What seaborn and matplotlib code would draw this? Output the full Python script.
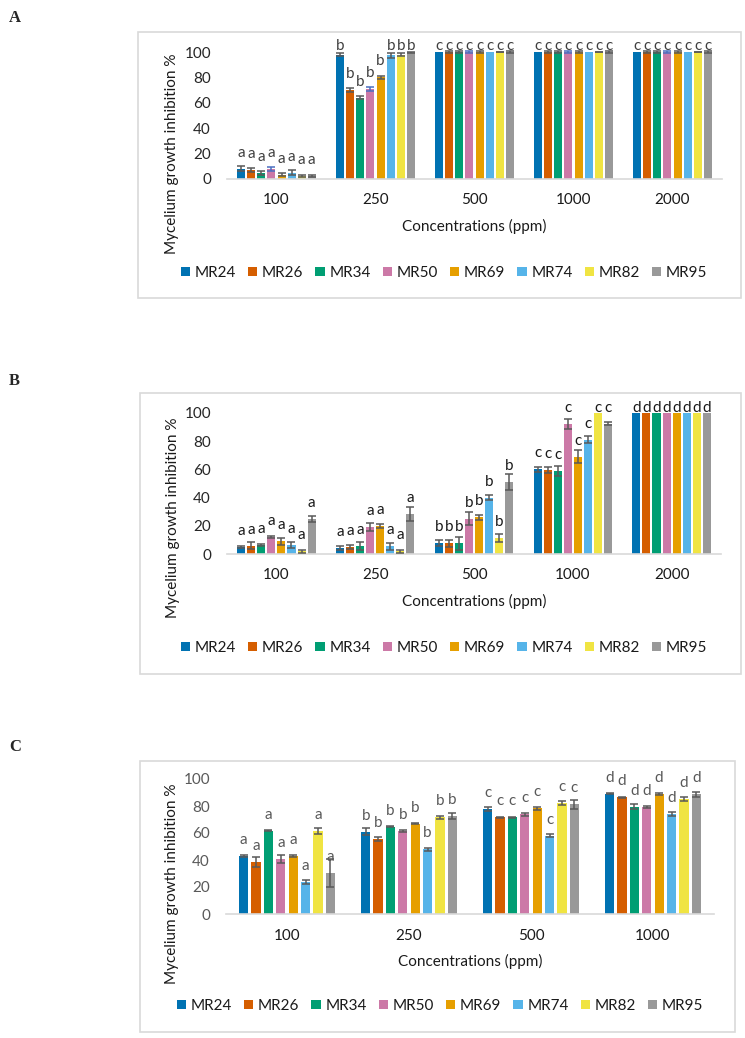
import matplotlib
matplotlib.use('Agg')
import matplotlib.pyplot as plt
import seaborn as sns
import pandas as pd
import numpy as np
from matplotlib.patches import Rectangle, Patch

sns.set_theme(style='white')
plt.rcParams['font.family'] = ['Lato', 'DejaVu Sans']

# ---------------- data ----------------
isolates = ['MR24', 'MR26', 'MR34', 'MR50', 'MR69', 'MR74', 'MR82', 'MR95']
colors = ['#0072B2', '#D55E00', '#009E73', '#CC79A7', '#E69F00', '#56B4E9', '#F0E442', '#999999']

a_concs = ['100', '250', '500', '1000', '2000']
a_mean = [
    [8.0, 98.0, 100, 100, 100],
    [7.0, 70.0, 100, 100, 100],
    [4.5, 64.0, 100, 100, 100],
    [8.0, 71.0, 100, 100, 100],
    [3.5, 80.0, 100, 100, 100],
    [5.0, 97.5, 100, 100, 100],
    [2.5, 98.0, 100, 100, 100],
    [2.2, 99.6, 100, 100, 100],
]
a_err = [
    [2.0, 1.5, 0.0, 0.0, 0.0],
    [1.5, 1.5, 0.8, 0.8, 0.8],
    [1.5, 1.0, 0.8, 0.8, 0.8],
    [1.5, 1.5, 0.5, 0.5, 0.5],
    [1.5, 1.0, 0.8, 0.8, 0.8],
    [2.0, 2.0, 0.0, 0.0, 0.0],
    [1.0, 1.5, 0.3, 0.3, 0.3],
    [1.0, 0.5, 0.8, 0.8, 0.8],
]
a_letters = ['a', 'b', 'c', 'c', 'c']

b_concs = ['100', '250', '500', '1000', '2000']
b_mean = [
    [5.0, 4.0, 8.0, 60.0, 100],
    [6.0, 5.0, 7.5, 59.5, 100],
    [6.5, 5.5, 7.5, 59.0, 100],
    [12.0, 19.0, 25.0, 92.0, 100],
    [9.0, 20.0, 26.0, 69.0, 100],
    [6.5, 5.5, 40.0, 81.0, 100],
    [2.0, 2.0, 11.5, 100.0, 100],
    [25.0, 28.5, 51.0, 92.5, 100],
]
b_err = [
    [1.0, 1.5, 2.0, 1.5, 0],
    [2.5, 1.5, 2.5, 2.0, 0],
    [0.5, 3.0, 4.5, 3.5, 0],
    [0.5, 3.0, 4.5, 3.5, 0],
    [2.5, 1.5, 2.0, 4.5, 0],
    [2.0, 2.5, 2.0, 2.5, 0],
    [1.0, 1.0, 3.0, 0.0, 0],
    [2.0, 5.0, 5.5, 1.0, 0],
]
b_letters = ['a', 'a', 'b', 'c', 'd']

c_concs = ['100', '250', '500', '1000']
c_mean = [
    [43.0, 61.0, 78.0, 89.0],
    [38.5, 55.5, 71.5, 86.5],
    [61.8, 64.7, 71.7, 79.5],
    [40.5, 61.5, 73.8, 79.0],
    [43.0, 67.0, 78.3, 89.0],
    [24.0, 48.0, 58.0, 74.0],
    [61.5, 71.5, 82.0, 85.3],
    [30.5, 72.7, 81.3, 88.7],
]
c_err = [
    [1.0, 2.5, 1.5, 0.3],
    [4.0, 1.5, 0.3, 0.5],
    [0.4, 0.6, 0.3, 2.0],
    [3.0, 1.0, 1.0, 0.8],
    [1.0, 0.5, 1.0, 0.8],
    [1.5, 1.0, 1.0, 1.5],
    [2.0, 0.8, 1.5, 1.5],
    [10.5, 2.0, 3.5, 2.0],
]
c_letters = ['a', 'b', 'c', 'd']

ylabel_text = 'Mycelium growth inhibition %'
xlabel_text = 'Concentrations (ppm)'

# ---------------- figure ----------------
W, H = 745, 1038
FS = 11
fig = plt.figure(figsize=(W / 100, H / 100), dpi=100)
fig.patch.set_facecolor('white')


def fx(px):
    return px / W


def fy(py):
    return 1 - py / H


def panel(label, label_y, box, axpx, cats, mean, err, letters, width, gap,
          tick_color, letter_color, ylab_xy, xlab_y, cat_y, leg_xy, err_colors):
    x0, y0, x1, y1 = box
    fig.patches.append(Rectangle((fx(x0), fy(y1)), fx(x1) - fx(x0), fy(y0) - fy(y1),
                                 transform=fig.transFigure, fill=False,
                                 edgecolor='#d9d9d9', lw=1.2))
    fig.text(fx(9), fy(label_y), label, fontfamily='Liberation Serif',
             fontweight='bold', fontsize=12, ha='left', va='center')

    l, r, b, t = axpx
    ax = fig.add_axes([fx(l), fy(b), fx(r) - fx(l), fy(t) - fy(b)])
    rows = []
    for i, iso in enumerate(isolates):
        for j, c in enumerate(cats):
            rows.append({'conc': c, 'isolate': iso, 'value': mean[i][j]})
    df = pd.DataFrame(rows)
    sns.barplot(data=df, x='conc', y='value', hue='isolate', order=cats,
                hue_order=isolates, palette=colors, width=width, gap=gap,
                errorbar=None, legend=False, saturation=1, linewidth=0, ax=ax)
    ax.set_xlim(-0.5, len(cats) - 0.5)
    ax.set_ylim(0, 100)
    ax.set_yticks(range(0, 101, 20))
    ax.set_xlabel('')
    ax.set_ylabel('')
    for s in ['left', 'top', 'right']:
        ax.spines[s].set_visible(False)
    ax.spines['bottom'].set_color('#d9d9d9')
    ax.spines['bottom'].set_linewidth(1.2)
    ax.tick_params(axis='y', length=0, pad=11.5, labelsize=FS, labelcolor=tick_color)
    ax.tick_params(axis='x', length=0, labelbottom=False)

    ppu = (b - t) / 100.0
    n = len(isolates)
    for i, iso in enumerate(isolates):
        xs = np.arange(len(cats)) + (i - (n - 1) / 2) * width / n
        vs = np.array(mean[i], dtype=float)
        es = np.array(err[i], dtype=float)
        m = es > 0
        if m.any():
            cont = ax.errorbar(xs[m], vs[m], yerr=es[m], fmt='none',
                               ecolor=err_colors[i], elinewidth=1.1,
                               capsize=3.0, capthick=1.1, zorder=4)
            for a in cont.get_children():
                a.set_clip_on(False)
        for j in range(len(cats)):
            yl = min(vs[j] + 12 / ppu, 100 + 1.5 / ppu)
            ax.text(xs[j], yl, letters[j], ha='center', va='baseline',
                    fontsize=FS, color=letter_color, zorder=5)

    xt = ax.get_xaxis_transform()
    for j, c in enumerate(cats):
        ax.text(j, -(cat_y - b) / (b - t), c, transform=xt, ha='center',
                va='center', fontsize=FS, color='#1a1a1a')

    fig.text(fx((l + r) / 2), fy(xlab_y), xlabel_text, ha='center', va='center',
             fontsize=FS, color='#1a1a1a')
    fig.text(fx(ylab_xy[0]), fy(ylab_xy[1]), ylabel_text, rotation=90,
             ha='center', va='center', fontsize=FS, color='#1a1a1a')

    handles = [Patch(facecolor=col, edgecolor='none', label=iso)
               for iso, col in zip(isolates, colors)]
    fig.legend(handles=handles, loc='center',
               bbox_to_anchor=(fx(leg_xy[0]), fy(leg_xy[1])),
               bbox_transform=fig.transFigure, ncol=8, frameon=False,
               fontsize=FS, handlelength=0.6, handleheight=0.6,
               handletextpad=0.3, columnspacing=0.8, borderpad=0,
               borderaxespad=0, labelcolor='#1a1a1a')
    return ax


err_a = ['#595959'] * 8
err_a[3] = '#4a6fc0'
err_other = ['#595959'] * 8

panel('A', 18, (138, 32, 741, 298), (227, 722, 179, 52), a_concs, a_mean, a_err,
      a_letters, 0.815, 0.2, '#262626', '#404040', (172, 154), 226, 200,
      (444, 273), err_a)
panel('B', 381, (140, 393, 741, 674), (227, 721, 554, 413), b_concs, b_mean, b_err,
      b_letters, 0.815, 0.2, '#262626', '#1a1a1a', (173, 518), 601, 575,
      (444, 648), err_other)
panel('C', 747, (140, 761, 735, 1032), (226, 714, 914, 779), c_concs, c_mean, c_err,
      c_letters, 0.81, 0.25, '#595959', '#595959', (172, 884), 961, 936,
      (440, 1006), err_other)

fig.savefig('out.png', dpi=100, facecolor='white')
